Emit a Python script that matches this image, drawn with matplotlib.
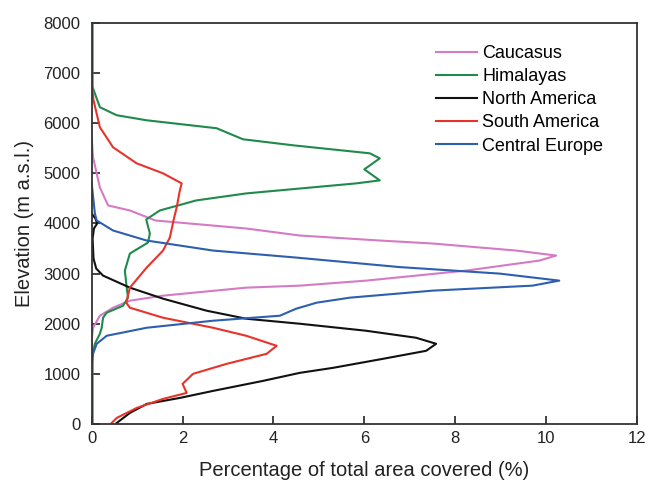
import matplotlib
matplotlib.use("Agg")
import matplotlib.pyplot as plt

plt.rcParams['font.family'] = ['Liberation Sans', 'DejaVu Sans']

# Caucasus
cau_x = [0, 0.03, 0.18, 0.36, 0.84, 1.4, 3.4, 4.58, 6.34, 7.51, 9.34, 10.22, 9.85, 8.24, 6.04, 4.58, 3.4, 1.57, 0.84, 0.47, 0.18, 0.03, 0, 0]
cau_y = [5720, 5320, 4720, 4360, 4260, 4060, 3900, 3760, 3660, 3600, 3460, 3360, 3260, 3060, 2860, 2760, 2720, 2560, 2460, 2320, 2160, 1920, 1700, 0]

# Himalayas
him_x = [0.02, 0.02, 0.18, 0.55, 1.2, 2.75, 3.33, 4.43, 6.12, 6.34, 6.0, 6.34, 5.82, 3.4, 2.3, 1.5, 1.2, 1.28, 1.24, 0.84, 0.73, 0.77, 0.8, 0.69, 0.33, 0.25, 0.22, 0.18, 0.07, 0.02, 0.02, 0.02]
him_y = [8000, 6720, 6320, 6160, 6060, 5900, 5680, 5560, 5400, 5300, 5080, 4860, 4800, 4600, 4460, 4260, 4080, 3800, 3620, 3400, 3060, 2720, 2520, 2360, 2220, 2120, 1920, 1800, 1600, 1400, 1000, 0]

# North America
na_x = [0, 0.08, 0.12, 0.05, 0.02, 0.04, 0.1, 0.25, 0.84, 1.57, 2.53, 3.4, 4.58, 6.04, 7.14, 7.58, 7.36, 6.41, 5.31, 4.58, 3.77, 2.67, 1.94, 1.21, 0.84, 0.55]
na_y = [4200, 4100, 4000, 3900, 3700, 3300, 3100, 2960, 2720, 2500, 2260, 2100, 2000, 1860, 1720, 1600, 1460, 1300, 1120, 1020, 860, 660, 520, 400, 220, 20]

# South America
sa_x = [0, 0.04, 0.18, 0.47, 0.99, 1.57, 1.98, 1.94, 1.87, 1.8, 1.72, 1.57, 1.21, 0.84, 0.76, 0.84, 1.57, 2.67, 3.4, 4.07, 3.85, 2.97, 2.23, 2.0, 2.09, 1.57, 0.99, 0.55, 0.44]
sa_y = [6800, 6460, 5920, 5520, 5200, 5000, 4800, 4660, 4320, 4060, 3720, 3460, 3120, 2720, 2420, 2320, 2120, 1920, 1760, 1560, 1400, 1200, 1000, 800, 620, 500, 320, 120, 20]

# Central Europe
ce_x = [0, 0.07, 0.11, 0.47, 1.21, 2.67, 4.5, 6.78, 8.98, 10.29, 9.7, 7.5, 5.68, 4.95, 4.5, 4.14, 2.67, 1.21, 0.33, 0.11, 0.03, 0, 0]
ce_y = [4800, 4200, 4060, 3860, 3660, 3460, 3320, 3130, 3000, 2860, 2760, 2660, 2520, 2420, 2300, 2160, 2060, 1920, 1760, 1600, 1400, 1200, 0]

names = ["Caucasus", "Himalayas", "North America", "South America", "Central Europe"]
colors = ["#d67ac4", "#1f8a4c", "#111111", "#e8332b", "#2d5faf"]

fig = plt.figure(figsize=(6.48, 4.84), dpi=100)
ax = fig.add_axes([0.1415, 0.124, 0.8415, 0.8285])

series = [(cau_x, cau_y), (him_x, him_y), (na_x, na_y), (sa_x, sa_y), (ce_x, ce_y)]
for (xs, ys), n, c in zip(series, names, colors):
    ax.plot(xs, ys, color=c, lw=1.5, label=n)

ax.set_xlim(0, 12)
ax.set_ylim(0, 8000)
ax.set_xticks(range(0, 13, 2))
ax.set_yticks(range(0, 8001, 1000))
ax.tick_params(direction='in', length=6, width=1.2, labelsize=12, colors='#222222')
ax.tick_params(axis='y', pad=8)
ax.tick_params(axis='x', pad=5)
for s in ax.spines.values():
    s.set_linewidth(1.3)
    s.set_color('#333333')
ax.set_xlabel("Percentage of total area covered (%)", fontsize=14.5, labelpad=11, color='#222222')
ax.set_ylabel("Elevation (m a.s.l.)", fontsize=14.5, labelpad=7, color='#222222')

leg = ax.legend(loc='upper left', bbox_to_anchor=(0.632, 0.945), frameon=False, fontsize=13,
                handlelength=2.27, handletextpad=0.28, labelspacing=0.34, borderaxespad=0,
                borderpad=0)

fig.savefig("out.png", dpi=100)
